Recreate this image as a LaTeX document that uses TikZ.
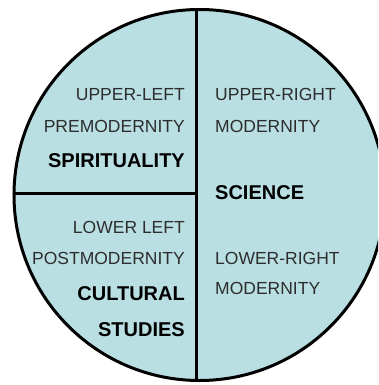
\documentclass[tikz,border=0pt]{standalone}
\usepackage{fontspec}
\setmainfont{Liberation Sans}
\definecolor{quadfill}{RGB}{185,223,227}
\definecolor{quadtext}{RGB}{45,45,45}
\begin{document}
\begin{tikzpicture}[x=1pt,y=-1pt,line join=round,line cap=round,
	lab/.style={text=quadtext,font=\fontsize{17.5}{20}\selectfont,inner sep=0pt},
	key/.style={text=black,font=\fontsize{20}{24}\selectfont\bfseries,inner sep=0pt}]
			\def \cx{199.5};
			\def \cy{195};
			\def \rad{185.5};
			\def \xdiv{196};
			\useasboundingbox (0,0) rectangle (378,385);
			\clip (0,0) rectangle (378,385);
			\draw[line width=3pt,fill=quadfill] (\cx,\cy) circle (\rad pt);
			\draw[line width=3pt] (\xdiv,\cy-\rad) -- (\xdiv,\cy+\rad);
			\draw[line width=3pt] (\cx-\rad,\cy-1.5) -- (\xdiv,\cy-1.5);
			% left quadrants
			\node[lab,anchor=base east] (ul) at (185,100) {UPPER-LEFT};
			\node[lab,anchor=base east] (pre) at (185,132) {PREMODERNITY};
			\node[key,anchor=base east] (spirit) at (185,167) {SPIRITUALITY};
			\node[lab,anchor=base east] (ll) at (185,233) {LOWER LEFT};
			\node[lab,anchor=base east] (post) at (185,264) {POSTMODERNITY};
			\node[key,anchor=base east] (cult) at (185,300) {CULTURAL};
			\node[key,anchor=base east] (stud) at (185,336) {STUDIES};
			% right half
			\node[lab,anchor=base west] (ur) at (215,100) {UPPER-RIGHT};
			\node[lab,anchor=base west] (modu) at (215,132) {MODERNITY};
			\node[key,anchor=base west] (sci) at (215,199) {SCIENCE};
			\node[lab,anchor=base west] (lr) at (215,264) {LOWER-RIGHT};
			\node[lab,anchor=base west] (modl) at (215,294) {MODERNITY};
		\end{tikzpicture}
\end{document}
